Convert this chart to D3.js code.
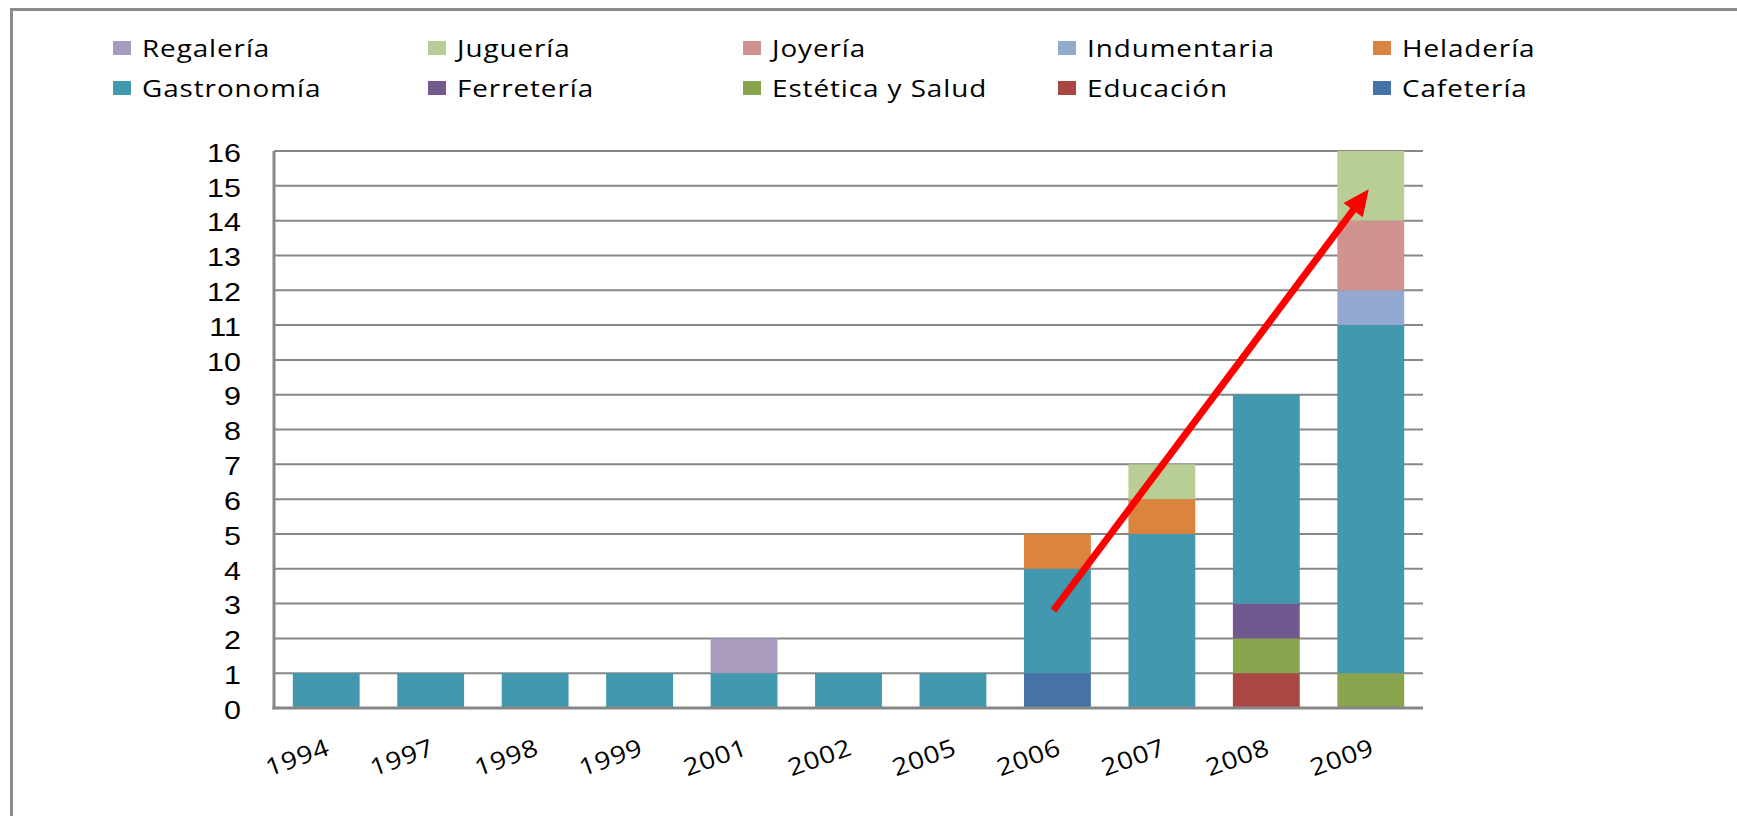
<!DOCTYPE html>
<html>
<head>
<meta charset="utf-8">
<script src="https://cdnjs.cloudflare.com/ajax/libs/d3/7.8.5/d3.min.js"></script>
<style>
  html, body { margin: 0; padding: 0; background: #fff; }
  svg { display: block; }
</style>
</head>
<body>
<svg id="chart" width="1737" height="816"></svg>
<script>
// ---------- DATA ----------
const categories = ["1994","1997","1998","1999","2001","2002","2005","2006","2007","2008","2009"];

// series listed bottom-of-stack first
const seriesNames = ["Cafetería","Educación","Estética y Salud","Ferretería","Gastronomía","Heladería","Indumentaria","Joyería","Juguería","Regalería"];
const cafeteria    = [0,0,0,0,0,0,0,1,0,0,0];
const educacion    = [0,0,0,0,0,0,0,0,0,1,0];
const esteticaSalud= [0,0,0,0,0,0,0,0,0,1,1];
const ferreteria   = [0,0,0,0,0,0,0,0,0,1,0];
const gastronomia  = [1,1,1,1,1,1,1,3,5,6,10];
const heladeria    = [0,0,0,0,0,0,0,1,1,0,0];
const indumentaria = [0,0,0,0,0,0,0,0,0,0,1];
const joyeria      = [0,0,0,0,0,0,0,0,0,0,2];
const jugueria     = [0,0,0,0,0,0,0,0,1,0,2];
const regaleria    = [0,0,0,0,1,0,0,0,0,0,0];
const seriesValues = [cafeteria,educacion,esteticaSalud,ferreteria,gastronomia,heladeria,indumentaria,joyeria,jugueria,regaleria];

const yTicks = [0,1,2,3,4,5,6,7,8,9,10,11,12,13,14,15,16];

// legend order (row 1 then row 2)
const legendOrder = ["Regalería","Juguería","Joyería","Indumentaria","Heladería",
                     "Gastronomía","Ferretería","Estética y Salud","Educación","Cafetería"];

// trend arrow annotation (category, value)
const arrowFrom = {cat: "2006", value: 2.8};
const arrowTo   = {cat: "2009", value: 14.9};

// ---------- STYLE ----------
const colors = {
  "Cafetería": "#4572A7",
  "Educación": "#AA4643",
  "Estética y Salud": "#89A54E",
  "Ferretería": "#71588F",
  "Gastronomía": "#4198AF",
  "Heladería": "#DB843D",
  "Indumentaria": "#93A9CF",
  "Joyería": "#D19392",
  "Juguería": "#B9CD96",
  "Regalería": "#A99BBD"
};

const svg = d3.select("#chart");
const W = 1737, H = 816;
svg.append("rect").attr("width", W).attr("height", H).attr("fill", "#fff");

// outer frame (partially visible)
svg.append("path")
  .attr("d", `M11.5,${H} L11.5,9.5 L${W},9.5`)
  .attr("fill", "none").attr("stroke", "#8c8c8c").attr("stroke-width", 3);

const plot = {left: 274, right: 1423, top: 151, bottom: 708};

const x = d3.scaleBand().domain(categories)
  .range([plot.left, plot.right]).paddingInner(0.36).paddingOuter(0.18);
const y = d3.scaleLinear().domain([0, 16]).range([plot.bottom, plot.top]);

// gridlines
svg.append("g").selectAll("line").data(yTicks.filter(d => d > 0)).join("line")
  .attr("x1", plot.left).attr("x2", plot.right)
  .attr("y1", d => y(d)).attr("y2", d => y(d))
  .attr("stroke", "#878787").attr("stroke-width", 2);

// stacked data
const table = categories.map((c, i) => {
  const row = {cat: c};
  seriesNames.forEach((s, k) => row[s] = seriesValues[k][i]);
  return row;
});
const stacked = d3.stack().keys(seriesNames)(table);

svg.append("g").selectAll("g").data(stacked).join("g")
  .attr("fill", d => colors[d.key])
  .selectAll("rect").data(d => d.filter(p => p[1] - p[0] > 0)).join("rect")
  .attr("x", d => x(d.data.cat))
  .attr("width", x.bandwidth())
  .attr("y", d => y(d[1]))
  .attr("height", d => y(d[0]) - y(d[1]));

// axes lines
svg.append("line").attr("x1", plot.left).attr("x2", plot.left)
  .attr("y1", plot.top).attr("y2", plot.bottom + 1.5)
  .attr("stroke", "#878787").attr("stroke-width", 3);
svg.append("line").attr("x1", plot.left - 1.5).attr("x2", plot.right)
  .attr("y1", plot.bottom).attr("y2", plot.bottom)
  .attr("stroke", "#878787").attr("stroke-width", 3);

// y tick labels
svg.append("g").selectAll("text").data(yTicks).join("text")
  .attr("transform", d => `translate(241,${y(d) + 2}) scale(1.22,1)`)
  .attr("text-anchor", "end").attr("dy", "0.35em")
  .attr("font-family", "'Liberation Sans', Arial, sans-serif")
  .attr("font-size", 25).attr("fill", "#000")
  .text(d => d);

// x tick labels (rotated)
svg.append("g").selectAll("text").data(categories).join("text")
  .attr("transform", d => `translate(${x(d) + x.bandwidth() / 2 + 5},754) rotate(-20) scale(1.15,1)`)
  .attr("text-anchor", "end")
  .attr("font-family", "'Open Sans', sans-serif")
  .attr("font-size", 24).attr("letter-spacing", "0.6px").attr("fill", "#000")
  .text(d => d);

// legend
const legend = svg.append("g").selectAll("g").data(legendOrder).join("g")
  .attr("transform", (d, i) => `translate(${113 + (i % 5) * 315},${41 + Math.floor(i / 5) * 40})`);
legend.append("rect").attr("width", 18).attr("height", 14).attr("fill", d => colors[d]);
legend.append("text")
  .attr("transform", "translate(29,15.5) scale(1.16,1)")
  .attr("font-family", "'Open Sans', sans-serif")
  .attr("font-size", 24).attr("letter-spacing", "0.8px").attr("fill", "#000")
  .text(d => d);

// trend arrow
const ax0 = x(arrowFrom.cat) + x.bandwidth() / 2 - 4, ay0 = y(arrowFrom.value);
const ax1 = x(arrowTo.cat) + x.bandwidth() / 2 - 2, ay1 = y(arrowTo.value);
const len = Math.hypot(ax1 - ax0, ay1 - ay0);
const ux = (ax1 - ax0) / len, uy = (ay1 - ay0) / len;
const headLen = 26, headHalf = 12;
const bx = ax1 - ux * headLen, by = ay1 - uy * headLen;
svg.append("line")
  .attr("x1", ax0).attr("y1", ay0).attr("x2", bx + ux * 2).attr("y2", by + uy * 2)
  .attr("stroke", "#ff0000").attr("stroke-width", 7);
svg.append("path")
  .attr("d", `M${ax1},${ay1} L${bx - uy * headHalf},${by + ux * headHalf} L${bx + uy * headHalf},${by - ux * headHalf} Z`)
  .attr("fill", "#ff0000");
</script>
</body>
</html>
